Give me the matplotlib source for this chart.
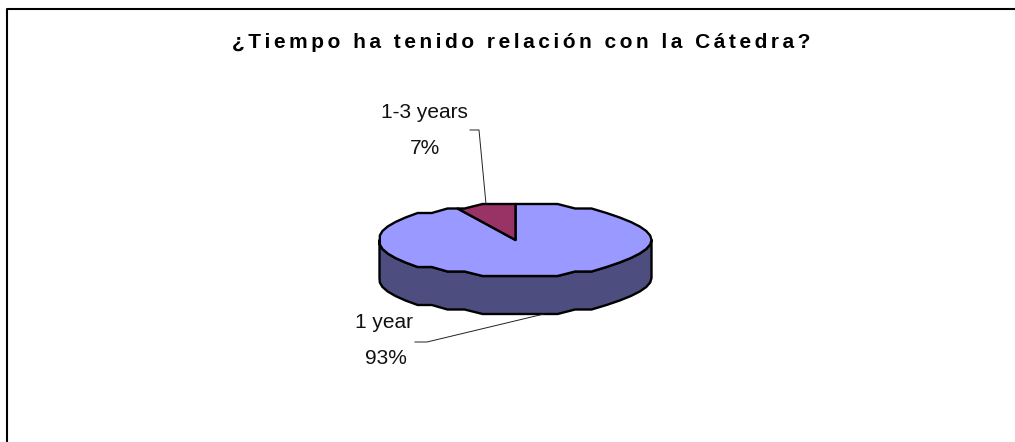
import numpy as np
import matplotlib
matplotlib.use('Agg')
from matplotlib import pyplot as plt

title = '¿Tiempo ha tenido relación con la Cátedra?'
categories = ['1-3 years', '1 year']
percents = [7, 93]

plt.rcParams['font.family'] = ['Liberation Sans', 'DejaVu Sans']

W, H = 1015, 442
fig = plt.figure(figsize=(W / 100, H / 100), dpi=100)
ax = fig.add_axes([0, 0, 1, 1])
ax.set_xlim(0, W)
ax.set_ylim(H, 0)
ax.axis('off')

# pie geometry in pixels
cx, cy, rx, ry, depth = 515.5, 240, 136, 36, 38
lw = 1.7


def rim(a0, a1, step=8):
    # y rounding makes the edge as jagged as the original
    a = np.r_[a0, np.arange(np.ceil(a0 / step) * step, a1, step), a1]
    a = np.deg2rad(a)
    x = cx + rx * np.cos(a)
    y = cy - np.round(ry * np.sin(a) / 4.5) * 4.5
    return x, y


# slice angles, starting at 12 o'clock going counter clockwise
start = 90
end = start + percents[0] * 3.6

# side wall
xs, ys = rim(180, 360)
ax.fill(np.r_[xs, xs[::-1]], np.r_[ys, ys[::-1] + depth], fc='#4d4d80', ec='black', lw=lw, joinstyle='round')

# big slice
xs, ys = rim(end, start + 360)
ax.fill(np.r_[cx, xs], np.r_[cy, ys], fc='#9999ff', ec='black', lw=lw, joinstyle='round')

# small slice
xs, ys = rim(start, end)
ax.fill(np.r_[cx, xs], np.r_[cy, ys], fc='#993366', ec='black', lw=lw, joinstyle='round')

# leader lines
ax.plot([470, 479, 486], [130, 130, 204], color='#222222', lw=0.7)
ax.plot([415, 427, 544], [342, 342, 314], color='#222222', lw=0.7)

# labels
ax.text(424, 113, categories[0], ha='center', va='center', fontsize=15, color='#111111')
ax.text(425, 148, '%d%%' % percents[0], ha='center', va='center', fontsize=15, color='#111111')
ax.text(384, 323, categories[1], ha='center', va='center', fontsize=15, color='#111111')
ax.text(386, 359, '%d%%' % percents[1], ha='center', va='center', fontsize=15, color='#111111')

# title is letter spaced in the original
ax.text(521, 43, '\u200a\u200a'.join(title), ha='center', va='center', fontsize=15, fontweight='bold', color='black')

# chart border, only top and left are visible
ax.plot([7, 7, W], [H, 8.5, 8.5], color='black', lw=1.5)

fig.savefig('out.png', dpi=100)
